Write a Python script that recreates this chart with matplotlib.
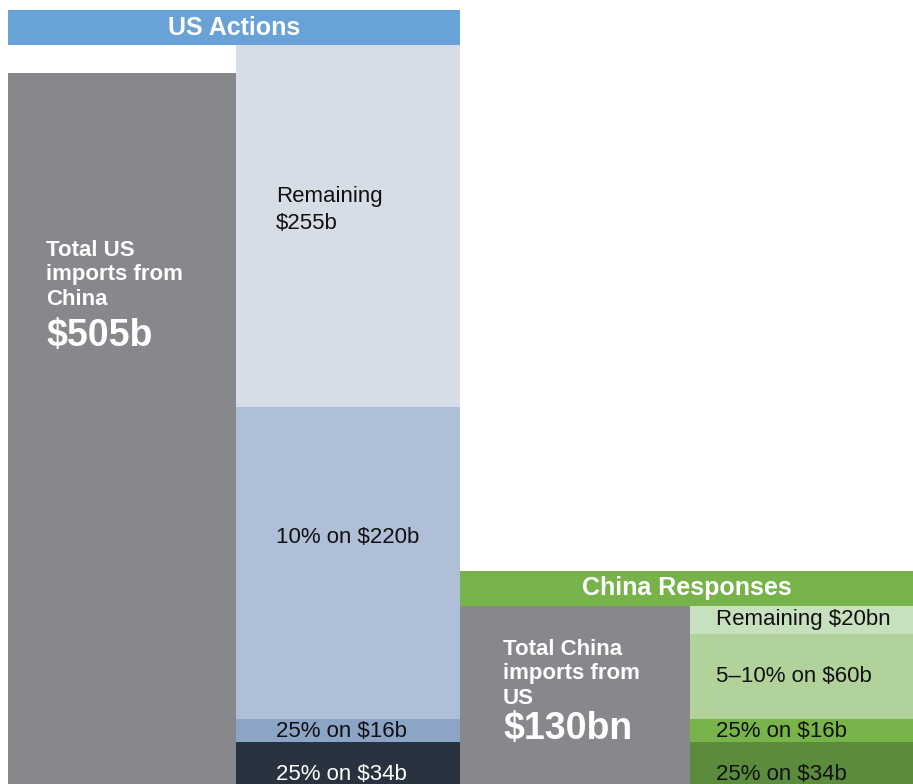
import matplotlib.pyplot as plt

plt.rcParams['font.family'] = ['Liberation Sans', 'DejaVu Sans']

# US side: total imports and the tariff tranches (bottom to top)
us_total = 505
us_tranches = [34, 16, 220, 255]
us_labels = ["25% on $34b", "25% on $16b", "10% on $220b", "Remaining\n$255b"]
us_colors = ["#28333f", "#8ca4c6", "#afbfd8", "#d7dde7"]
us_text_colors = ["white", "#111111", "#111111", "#111111"]

# China side
cn_total = 130
cn_tranches = [34, 16, 60, 20]
cn_labels = ["25% on $34b", "25% on $16b", "5\u201310% on $60b", "Remaining $20bn"]
cn_colors = ["#5b8c3d", "#78b44a", "#b1d39b", "#c7e0bd"]

gray = "#87888c"
px = 1.419  # pixels per $1b
col_px = 226.25  # pixels per column

fig = plt.figure(figsize=(9.13, 7.84), dpi=100)
ax = fig.add_axes([0, 0, 1, 1])
ax.axis("off")

us_top = sum(us_tranches)
ytop = us_top + 45 / px
ax.set_ylim(ytop - 784 / px, ytop)
ax.set_xlim(-8 / col_px, 4)

hdr = 35 / px
x_gray_us, x_us, x_gray_cn, x_cn = 0, 228 / col_px, 452 / col_px, 682 / col_px
w_gray_us, w_us, w_gray_cn, w_cn = 228 / col_px, 224 / col_px, 230 / col_px, 4 - 682 / col_px

# US columns
ax.bar(x_gray_us, us_total, width=w_gray_us, align="edge", color=gray)
bottom = 0
for v, c in zip(us_tranches, us_colors):
    ax.bar(x_us, v, width=w_us, bottom=bottom, align="edge", color=c)
    bottom += v
ax.bar(0, hdr, width=x_gray_cn, bottom=us_top, align="edge", color="#68a2d6")
ax.text(x_gray_cn / 2, us_top + hdr / 2 - 0.5, "US Actions", ha="center",
        va="center", color="white", fontsize=18, fontweight="bold")

# China columns
ax.bar(x_gray_cn, cn_total, width=w_gray_cn, align="edge", color=gray)
bottom = 0
for v, c in zip(cn_tranches, cn_colors):
    ax.bar(x_cn, v, width=w_cn, bottom=bottom, align="edge", color=c)
    bottom += v
ax.bar(x_gray_cn, hdr, width=4 - x_gray_cn, bottom=cn_total, align="edge",
       color="#78b24a")
ax.text((x_gray_cn + 4) / 2, cn_total + hdr / 2, "China Responses", ha="center",
        va="center", color="white", fontsize=18, fontweight="bold")

# totals inside the gray columns
ax.text(38 / col_px, 363, "Total US\nimports from\nChina", ha="left", va="center",
        color="white", fontsize=16, fontweight="bold", linespacing=1.22)
ax.text(38 / col_px, 320, f"${us_total}b", ha="left", va="center",
        color="white", fontsize=27, fontweight="bold")
ax.text(x_gray_cn + 43 / col_px, 82, "Total China\nimports from\nUS", ha="left",
        va="center", color="white", fontsize=16, fontweight="bold",
        linespacing=1.22)
ax.text(x_gray_cn + 43 / col_px, 43, f"${cn_total}bn", ha="left", va="center",
        color="white", fontsize=27, fontweight="bold")

# tranche labels
us_label_frac = [0.33, 0.45, 0.58, 0.545]
bottom = 0
for v, lab, tc, f in zip(us_tranches, us_labels, us_text_colors, us_label_frac):
    ax.text(x_us + 40 / col_px, bottom + v * f, lab, ha="left", va="center",
            color=tc, fontsize=16, linespacing=1.37)
    bottom += v

cn_label_frac = [0.33, 0.45, 0.5, 0.5]
bottom = 0
for v, lab, f in zip(cn_tranches, cn_labels, cn_label_frac):
    ax.text(x_cn + 26 / col_px, bottom + v * f, lab, ha="left", va="center",
            color="#111111", fontsize=16)
    bottom += v

fig.savefig("out.png", dpi=100)
